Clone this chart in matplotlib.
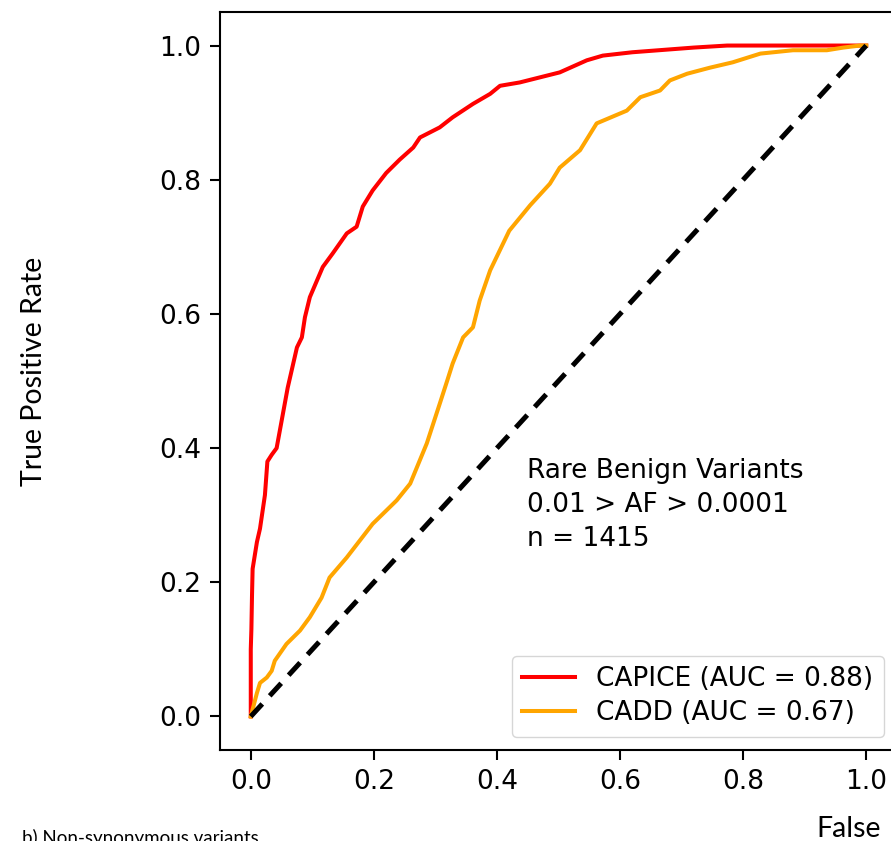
import matplotlib
matplotlib.use('Agg')
import matplotlib.pyplot as plt

# ROC points (false positive rate, true positive rate)
capice_fpr = [0.0, 0.0, 0.0, 0.001, 0.002, 0.003, 0.01, 0.015, 0.023, 0.027, 0.034, 0.042,
              0.05, 0.06, 0.075, 0.083, 0.088, 0.096, 0.117, 0.133, 0.156, 0.172, 0.182,
              0.198, 0.22, 0.242, 0.264, 0.275, 0.307, 0.328, 0.361, 0.389, 0.405, 0.437,
              0.502, 0.546, 0.572, 0.62, 0.72, 0.774, 1.0]
capice_tpr = [0.0, 0.04, 0.1, 0.13, 0.18, 0.22, 0.26, 0.28, 0.33, 0.38, 0.39, 0.40,
              0.44, 0.49, 0.55, 0.565, 0.595, 0.625, 0.67, 0.69, 0.72, 0.73, 0.76,
              0.784, 0.81, 0.83, 0.848, 0.863, 0.878, 0.893, 0.913, 0.928, 0.94, 0.945,
              0.96, 0.978, 0.985, 0.99, 0.997, 1.0, 1.0]

cadd_fpr = [0.0, 0.01, 0.015, 0.026, 0.034, 0.039, 0.058, 0.08, 0.096, 0.115, 0.128,
            0.156, 0.198, 0.237, 0.259, 0.286, 0.307, 0.319, 0.328, 0.345, 0.361, 0.372,
            0.389, 0.42, 0.454, 0.486, 0.502, 0.535, 0.562, 0.611, 0.633, 0.665, 0.681,
            0.709, 0.746, 0.783, 0.828, 0.881, 0.936, 0.963, 0.99, 1.0]
cadd_tpr = [0.0, 0.035, 0.05, 0.058, 0.068, 0.083, 0.108, 0.128, 0.148, 0.177, 0.207,
            0.237, 0.287, 0.322, 0.347, 0.407, 0.466, 0.50, 0.526, 0.565, 0.58, 0.62,
            0.665, 0.724, 0.762, 0.794, 0.818, 0.844, 0.884, 0.903, 0.923, 0.933, 0.948,
            0.958, 0.967, 0.975, 0.988, 0.993, 0.993, 0.997, 1.0, 1.0]

labels = ['CAPICE (AUC = 0.88)', 'CADD (AUC = 0.67)']
note = 'Rare Benign Variants\n0.01 > AF > 0.0001\nn = 1415'
ticks = [0.0, 0.2, 0.4, 0.6, 0.8, 1.0]

fs = 19
fig = plt.figure(figsize=(8.91, 8.41), dpi=100)
ax = fig.add_axes([220 / 891, 1 - 750 / 841, 677 / 891, 738 / 841])

ax.plot(capice_fpr, capice_tpr, color='red', lw=2.9, label=labels[0])
ax.plot(cadd_fpr, cadd_tpr, color='orange', lw=2.9, label=labels[1])
ax.plot([0, 1], [0, 1], color='black', lw=3.6, linestyle=(0, (3.4, 2.2)))

ax.set_xlim(-0.05, 1.05)
ax.set_ylim(-0.05, 1.05)
ax.set_xticks(ticks)
ax.set_yticks(ticks)
ax.tick_params(labelsize=fs, width=1.5, length=7, pad=6.5)
for s in ax.spines.values():
    s.set_linewidth(1.5)

ax.text(0.449, 0.385, note, fontsize=fs, va='top', ha='left', linespacing=1.4)
ax.legend(loc='lower right', fontsize=fs, handlelength=2.0, borderaxespad=0.5,
          labelspacing=0.3)

# panel labels that belong to the surrounding figure (cut off at the edges)
fig.text(34 / 891, 1 - 371 / 841, 'True Positive Rate', rotation=90, ha='center',
         va='center', fontsize=20.5, family='Lato')
fig.text(816 / 891, 1 - 837 / 841, 'False', ha='left', va='baseline',
         fontsize=20.5, family='Lato')
fig.text(22 / 891, 1 - 829 / 841, 'b) Non-synonymous variants', ha='left', va='top',
         fontsize=13.5, family='Lato')

fig.savefig('out.png', dpi=100)
